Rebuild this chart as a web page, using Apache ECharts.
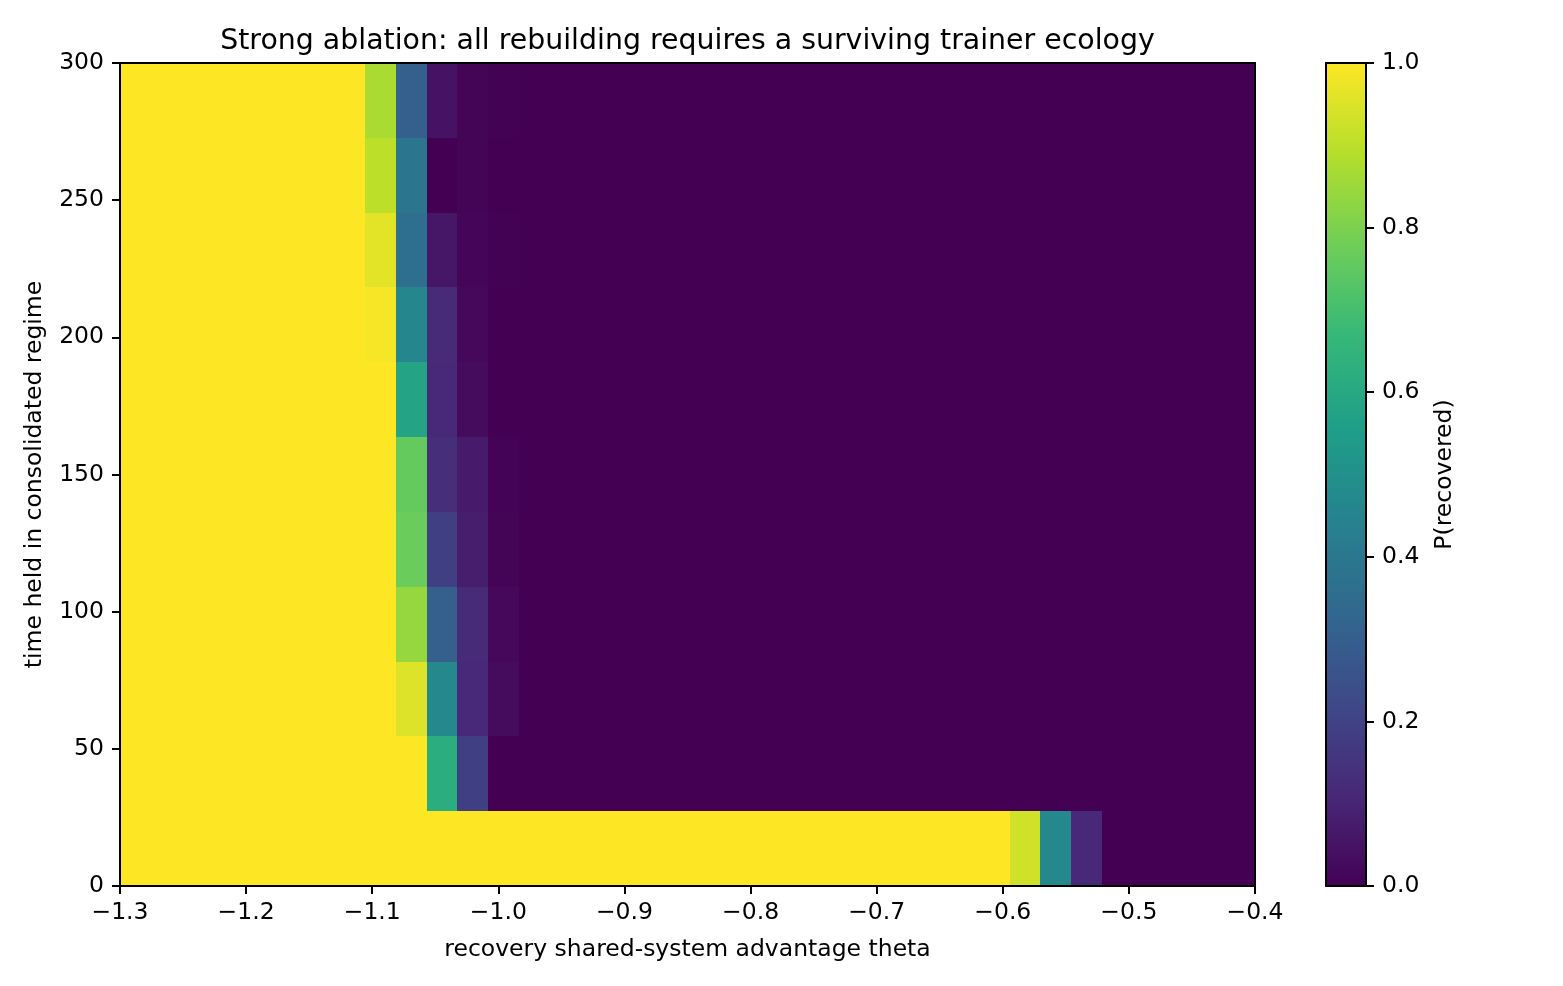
<!DOCTYPE html>
<html>
<head>
<meta charset="utf-8">
<script src="https://cdn.jsdelivr.net/npm/echarts/dist/echarts.min.js"></script>
<style>
html,body{margin:0;padding:0;background:#fff;}
#chart{width:1563px;height:986px;}
</style>
</head>
<body>
<div id="chart"></div>
<script>
// ---- data domain (imshow extent) ----
const thetaRange = [-1.3, -0.4];   // x extent
const timeRange = [0, 300];        // y extent
const xTicks = [-1.3, -1.2, -1.1, -1.0, -0.9, -0.8, -0.7, -0.6, -0.5, -0.4];
const yTicks = [0, 50, 100, 150, 200, 250, 300];
const cbTicks = [0.0, 0.2, 0.4, 0.6, 0.8, 1.0];

// P(recovered), one array per time row (bottom row first), 37 theta columns each
const row00 = [1,1,1,1,1,1,1,1,1,1, 1,1,1,1,1,1,1,1,1,1, 1,1,1,1,1,1,1,1,1,0.93, 0.47,0.11,0,0,0,0,0];
const row01 = [1,1,1,1,1,1,1,1,1,1, 0.62,0.19,0,0,0,0,0,0,0,0, 0,0,0,0,0,0,0,0,0,0, 0,0,0,0,0,0,0];
const row02 = [1,1,1,1,1,1,1,1,1,0.95, 0.47,0.11,0.03,0,0,0,0,0,0,0, 0,0,0,0,0,0,0,0,0,0, 0,0,0,0,0,0,0];
const row03 = [1,1,1,1,1,1,1,1,1,0.84, 0.30,0.12,0.02,0,0,0,0,0,0,0, 0,0,0,0,0,0,0,0,0,0, 0,0,0,0,0,0,0];
const row04 = [1,1,1,1,1,1,1,1,1,0.77, 0.19,0.08,0.01,0,0,0,0,0,0,0, 0,0,0,0,0,0,0,0,0,0, 0,0,0,0,0,0,0];
const row05 = [1,1,1,1,1,1,1,1,1,0.76, 0.13,0.07,0.005,0,0,0,0,0,0,0, 0,0,0,0,0,0,0,0,0,0, 0,0,0,0,0,0,0];
const row06 = [1,1,1,1,1,1,1,1,1,0.58, 0.11,0.03,0,0,0,0,0,0,0,0, 0,0,0,0,0,0,0,0,0,0, 0,0,0,0,0,0,0];
const row07 = [1,1,1,1,1,1,1,1,0.99,0.46, 0.12,0.02,0,0,0,0,0,0,0,0, 0,0,0,0,0,0,0,0,0,0, 0,0,0,0,0,0,0];
const row08 = [1,1,1,1,1,1,1,1,0.96,0.36, 0.06,0.015,0.003,0,0,0,0,0,0,0, 0,0,0,0,0,0,0,0,0,0, 0,0,0,0,0,0,0];
const row09 = [1,1,1,1,1,1,1,1,0.90,0.39, 0,0.01,0,0,0,0,0,0,0,0, 0,0,0,0,0,0,0,0,0,0, 0,0,0,0,0,0,0];
const row10 = [1,1,1,1,1,1,1,1,0.87,0.30, 0.05,0.01,0.004,0,0,0,0,0,0,0, 0,0,0,0,0,0,0,0,0,0, 0,0,0,0,0,0,0];
const grid = [row00,row01,row02,row03,row04,row05,row06,row07,row08,row09,row10];

const viridis = ['#440154','#482878','#3e4989','#31688e','#26828e','#1f9e89','#35b779','#6ece58','#b5de2b','#fde725'];

// ---- build cells (edges from extent) ----
const nRows = grid.length, nCols = grid[0].length;
const dX = (thetaRange[1] - thetaRange[0]) / nCols;
const dY = (timeRange[1] - timeRange[0]) / nRows;
const cells = [];
for (let r = 0; r < nRows; r++) {
  for (let c = 0; c < nCols; c++) {
    const x0 = thetaRange[0] + c * dX, y0 = timeRange[0] + r * dY;
    cells.push([x0 + dX / 2, y0 + dY / 2, grid[r][c], x0, y0, x0 + dX, y0 + dY]);
  }
}

const FONT = 'DejaVu Sans';
const fmtMinus = v => (v < 0 ? '\u2212' : '') + Math.abs(v).toFixed(1);
const lineStyle = {color: '#000', width: 2};
const txt = {color: '#000', fontSize: 23.5, fontFamily: FONT};

const chart = echarts.init(document.getElementById('chart'), null, {renderer: 'canvas'});
chart.setOption({
  animation: false,
  backgroundColor: '#fff',
  title: {
    text: 'Strong ablation: all rebuilding requires a surviving trainer ecology',
    left: 687.5, top: 28, textAlign: 'center', padding: 0,
    textStyle: {color: '#000', fontSize: 28.4, fontWeight: 'normal', fontFamily: FONT}
  },
  grid: [
    {left: 120, top: 63, width: 1135, height: 823},
    {left: 1326, top: 63, width: 40, height: 823}
  ],
  visualMap: {
    type: 'continuous', show: false, min: 0, max: 1, dimension: 2, seriesIndex: 0,
    inRange: {color: viridis}
  },
  xAxis: [
    {
      gridIndex: 0, type: 'value', min: thetaRange[0], max: thetaRange[1], interval: 0.1, z: 10,
      axisLine: {onZero: false, lineStyle}, axisTick: {length: 8, lineStyle},
      axisLabel: Object.assign({margin: 15, formatter: fmtMinus, showMinLabel: true, showMaxLabel: true}, txt),
      splitLine: {show: false},
      name: 'recovery shared-system advantage theta', nameLocation: 'middle', nameGap: 52,
      nameTextStyle: txt
    },
    {gridIndex: 1, type: 'value', min: 0, max: 1, show: false},
    {
      gridIndex: 0, type: 'value', position: 'top', min: thetaRange[0], max: thetaRange[1], z: 10,
      axisLine: {onZero: false, lineStyle}, axisTick: {show: false}, axisLabel: {show: false}, splitLine: {show: false}
    }
  ],
  yAxis: [
    {
      gridIndex: 0, type: 'value', min: timeRange[0], max: timeRange[1], interval: 50, z: 10,
      axisLine: {onZero: false, lineStyle}, axisTick: {length: 8, lineStyle},
      axisLabel: Object.assign({margin: 16, formatter: v => String(v)}, txt),
      splitLine: {show: false},
      name: 'time held in consolidated regime', nameLocation: 'middle', nameGap: 73, nameRotate: 90,
      nameTextStyle: txt
    },
    {
      gridIndex: 1, type: 'value', position: 'right', min: 0, max: 1, interval: 0.2, z: 10,
      axisLine: {onZero: false, lineStyle}, axisTick: {length: 8, lineStyle},
      axisLabel: Object.assign({margin: 16, formatter: v => v.toFixed(1)}, txt),
      splitLine: {show: false},
      name: 'P(recovered)', nameLocation: 'middle', nameGap: 67, nameRotate: 90,
      nameTextStyle: txt
    },
    {
      gridIndex: 0, type: 'value', position: 'right', min: timeRange[0], max: timeRange[1], z: 10,
      axisLine: {onZero: false, lineStyle}, axisTick: {show: false}, axisLabel: {show: false}, splitLine: {show: false}
    }
  ],
  series: [
    {
      type: 'custom', xAxisIndex: 0, yAxisIndex: 0, z: 2,
      data: cells,
      encode: {x: 0, y: 1},
      renderItem: function (params, api) {
        const p0 = api.coord([api.value(3), api.value(4)]);
        const p1 = api.coord([api.value(5), api.value(6)]);
        const xa = Math.round(p0[0]), xb = Math.round(p1[0]);
        const ya = Math.round(p1[1]), yb = Math.round(p0[1]);
        return {
          type: 'rect',
          shape: {x: xa, y: ya, width: xb - xa, height: yb - ya},
          style: {fill: api.visual('color')}
        };
      }
    },
    {
      type: 'custom', xAxisIndex: 1, yAxisIndex: 1, z: 2,
      data: [[0, 0, 1, 1]],
      renderItem: function (params, api) {
        const p0 = api.coord([api.value(0), api.value(1)]);
        const p1 = api.coord([api.value(2), api.value(3)]);
        const stops = viridis.map((c, i) => ({offset: i / (viridis.length - 1), color: c}));
        return {
          type: 'rect',
          shape: {x: p0[0], y: p1[1], width: p1[0] - p0[0], height: p0[1] - p1[1]},
          style: {
            fill: {type: 'linear', x: 0, y: 1, x2: 0, y2: 0, colorStops: stops},
            stroke: '#000', lineWidth: 2
          }
        };
      }
    }
  ]
});
</script>
</body>
</html>
